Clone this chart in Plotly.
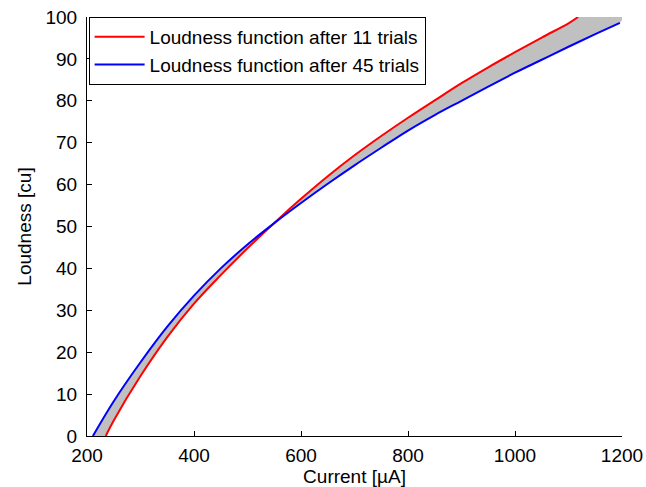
import plotly.graph_objects as go

# Loudness function after 11 trials (red)
red_current = [235, 250, 300, 350, 400, 450, 500, 550, 600, 650, 700,
               750, 800, 850, 900, 950, 1000, 1050, 1100, 1118]
red_loudness = [0, 3.7, 14.3, 23.6, 31.6, 38.4, 44.8, 50.85, 56.6, 62.0, 67.0,
                71.6, 75.95, 80.1, 84.2, 88.0, 91.6, 95.1, 98.5, 100]

# Loudness function after 45 trials (blue)
blue_current = [211, 250, 300, 350, 400, 450, 500, 550, 600, 650, 700,
                750, 800, 850, 900, 950, 1000, 1050, 1100, 1150, 1196]
blue_loudness = [0, 8.3, 17.6, 26.1, 33.5, 40.0, 45.7, 50.8, 55.6, 60.2, 64.6,
                 68.8, 72.9, 76.6, 80.0, 83.4, 86.7, 89.8, 92.9, 95.9, 98.6]

x_range = [200, 1200]
y_range = [0, 100]
x_ticks = [200, 400, 600, 800, 1000, 1200]
y_ticks = [0, 10, 20, 30, 40, 50, 60, 70, 80, 90, 100]

FONT = "Liberation Sans, Arial, sans-serif"
AX = "#000000"
FS = 19

fig = go.Figure()

# grey band between the two curves (red clipped at the top of the axes)
poly_x = red_current + [x_range[1]] + blue_current[::-1]
poly_y = [min(v, y_range[1]) for v in red_loudness] + [y_range[1]] + blue_loudness[::-1]
fig.add_trace(go.Scatter(x=poly_x, y=poly_y, mode="lines", fill="toself",
                         fillcolor="#c0c0c0", line=dict(width=0, color="#c0c0c0", shape="spline", smoothing=1),
                         showlegend=False, hoverinfo="skip"))

fig.add_trace(go.Scatter(x=red_current, y=red_loudness, mode="lines",
                         name="Loudness function after 11 trials",
                         line=dict(color="#ff0000", width=2, shape="spline", smoothing=1)))
fig.add_trace(go.Scatter(x=blue_current, y=blue_loudness, mode="lines",
                         name="Loudness function after 45 trials",
                         line=dict(color="#0000ff", width=2, shape="spline", smoothing=1)))

axis_common = dict(showgrid=False, zeroline=False, showline=True, linecolor=AX,
                   linewidth=1, ticks="inside", ticklen=5, tickcolor=AX, tickwidth=1,
                   mirror=False, automargin=False,
                   tickfont=dict(family=FONT, size=FS, color="#000000"))

fig.update_xaxes(range=x_range, tickvals=x_ticks, ticktext=[str(v) for v in x_ticks],
                 title=dict(text="Current [µA]", font=dict(family=FONT, size=FS, color="#000000"),
                            standoff=4),
                 ticklabelstandoff=2, **axis_common)
fig.update_yaxes(range=y_range, tickvals=y_ticks, ticktext=[str(v) for v in y_ticks],
                 title=dict(text="Loudness [cu]", font=dict(family=FONT, size=FS, color="#000000"),
                            standoff=8),
                 ticklabelstandoff=5, **axis_common)

fig.update_layout(
    width=646, height=487,
    margin=dict(l=87, r=24, t=17, b=51, pad=0, autoexpand=False),
    paper_bgcolor="white", plot_bgcolor="white",
    font=dict(family=FONT, size=FS, color="#000000"),
    showlegend=True,
    legend=dict(x=0.003, y=1, xanchor="left", yanchor="top", bgcolor="white",
                bordercolor="#000000", borderwidth=1, itemwidth=50,
                font=dict(family=FONT, size=FS, color="#000000"),
                tracegroupgap=0),
    hovermode=False,
)

fig.write_html("out.html", config={"displayModeBar": False})
